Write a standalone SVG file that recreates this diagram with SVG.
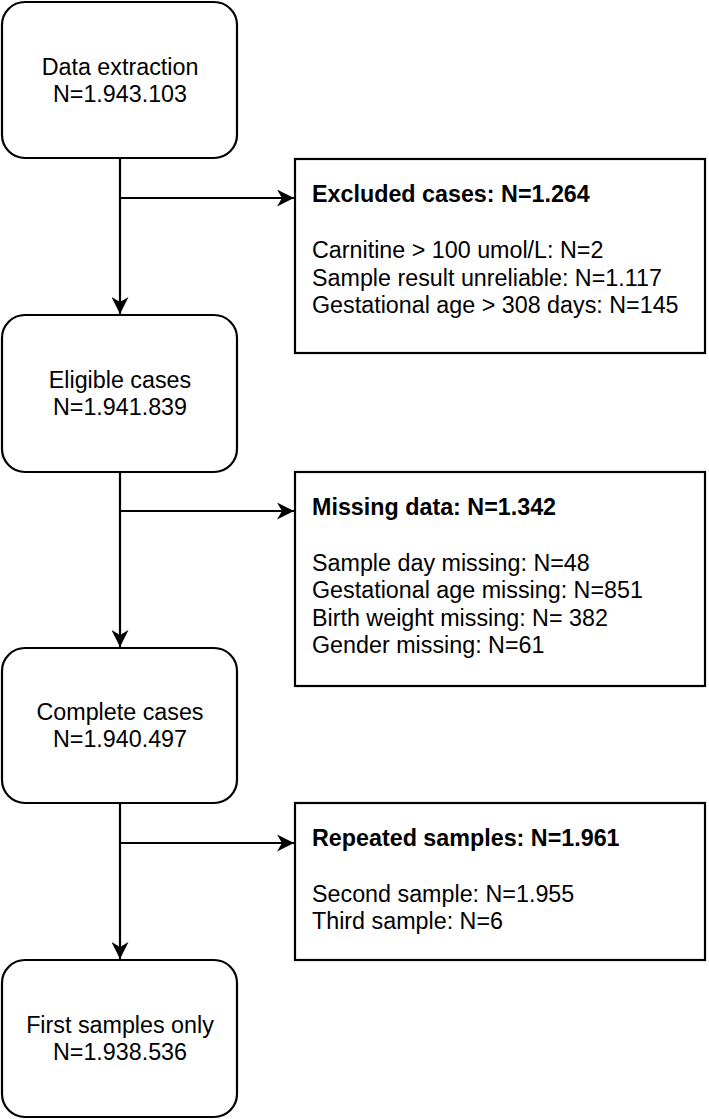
<svg xmlns="http://www.w3.org/2000/svg" width="709" height="1119" viewBox="0 0 709 1119">
<style>
.box{fill:#fff;stroke:#000;stroke-width:2.2}
.t{font-family:"Liberation Sans",Arial,sans-serif;font-size:23.3px;fill:#000}
.c{text-anchor:middle}
.b{font-weight:bold}
.ln{fill:none;stroke:#000;stroke-width:2.2}
</style>
<defs>
<marker id="arr" markerUnits="userSpaceOnUse" markerWidth="18" markerHeight="17" refX="17" refY="8.5" orient="auto" viewBox="0 0 18 17">
<path d="M0,0 L17,8.5 L0,17 L5,8.5 Z" fill="#000"/>
</marker>
</defs>
<rect width="709" height="1119" fill="#fff"/>
<g id="connectors">
<path class="ln" d="M120,158 V314" marker-end="url(#arr)"/>
<path class="ln" d="M120,198 H294" marker-end="url(#arr)"/>
<path class="ln" d="M120,472 V647" marker-end="url(#arr)"/>
<path class="ln" d="M120,511 H294" marker-end="url(#arr)"/>
<path class="ln" d="M120,803 V959" marker-end="url(#arr)"/>
<path class="ln" d="M120,843 H294" marker-end="url(#arr)"/>
</g>
<g id="data-extraction">
<rect class="box" x="2" y="2" width="235" height="156" rx="23"/>
<text class="t c" x="120" y="75">Data extraction</text>
<text class="t c" x="120" y="102">N=1.943.103</text>
</g>
<g id="excluded">
<rect class="box" x="295" y="159" width="410" height="194"/>
<text class="t b" x="312" y="202">Excluded cases: N=1.264</text>
<text class="t" x="312" y="258">Carnitine &gt; 100 umol/L: N=2</text>
<text class="t" x="312" y="285.5">Sample result unreliable: N=1.117</text>
<text class="t" x="312" y="313">Gestational age &gt; 308 days: N=145</text>
</g>
<g id="eligible">
<rect class="box" x="2" y="315" width="235" height="157" rx="23"/>
<text class="t c" x="120" y="388">Eligible cases</text>
<text class="t c" x="120" y="415">N=1.941.839</text>
</g>
<g id="missing">
<rect class="box" x="295" y="472" width="410" height="214"/>
<text class="t b" x="312" y="515">Missing data: N=1.342</text>
<text class="t" x="312" y="571">Sample day missing: N=48</text>
<text class="t" x="312" y="598">Gestational age missing: N=851</text>
<text class="t" x="312" y="625.5">Birth weight missing: N= 382</text>
<text class="t" x="312" y="653">Gender missing: N=61</text>
</g>
<g id="complete">
<rect class="box" x="2" y="648" width="235" height="155" rx="23"/>
<text class="t c" x="120" y="720">Complete cases</text>
<text class="t c" x="120" y="747">N=1.940.497</text>
</g>
<g id="repeated">
<rect class="box" x="295" y="803" width="410" height="157"/>
<text class="t b" x="312" y="846">Repeated samples: N=1.961</text>
<text class="t" x="312" y="902">Second sample: N=1.955</text>
<text class="t" x="312" y="929">Third sample: N=6</text>
</g>
<g id="first-samples">
<rect class="box" x="2" y="960" width="235" height="157" rx="23"/>
<text class="t c" x="120" y="1033">First samples only</text>
<text class="t c" x="120" y="1060">N=1.938.536</text>
</g>
</svg>
